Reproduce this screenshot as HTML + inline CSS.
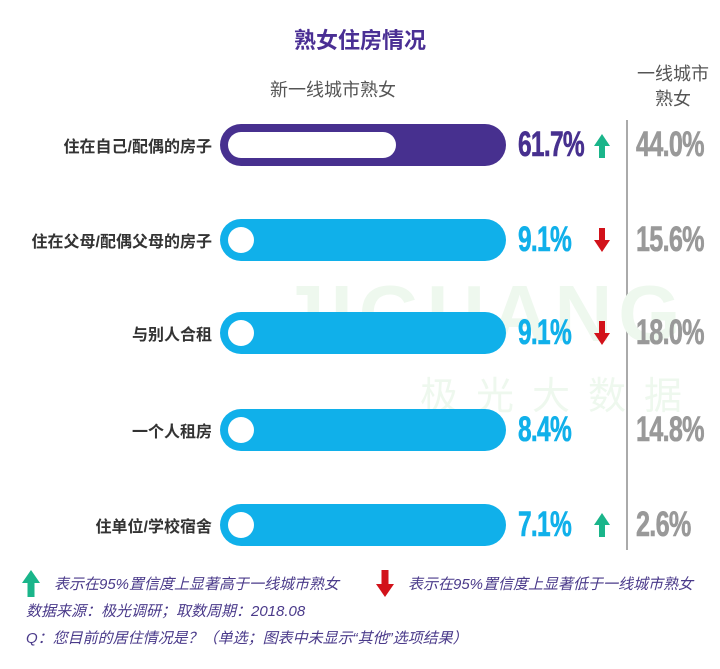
<!DOCTYPE html>
<html><head><meta charset="utf-8"><style>
body{margin:0;width:720px;height:669px;background:#fff;position:relative;overflow:hidden;font-family:"Liberation Sans","Noto Sans CJK SC",sans-serif}
.a{position:absolute;white-space:nowrap}
.lab{right:508px;font-size:16px;font-weight:bold;color:#333;transform:translateY(-50%)}
.bar{left:220px;width:286px;height:42px;border-radius:21px;background:#10b0ea}
.dot{position:absolute;left:8px;top:8px;width:26px;height:26px;border-radius:13px;background:#fff}
.pct{left:518px;font-size:35px;font-weight:bold;transform:translateY(-50%) scaleX(.7);transform-origin:left center;letter-spacing:-1px;-webkit-text-stroke:0.6px currentColor}
.rv{left:636px;font-size:35px;font-weight:bold;color:#999;transform:translateY(-50%) scaleX(.72);transform-origin:left center;letter-spacing:-1px;-webkit-text-stroke:0.6px currentColor}
.foot{font-size:15px;font-style:italic;color:#4a3a8a}
</style></head><body>
<div class="a" style="left:0;width:720px;top:23px;text-align:center;font-size:22px;font-weight:bold;color:#4a2f94">熟女住房情况</div>
<div class="a" style="left:270px;top:76px;font-size:18px;color:#555">新一线城市熟女</div>
<div class="a" style="left:628px;top:62px;width:90px;text-align:center;font-size:18px;color:#555;line-height:25px;white-space:normal">一线城市<br>熟女</div>
<div class="a" style="left:626px;top:120px;width:2px;height:430px;background:#aaa"></div>
<div class="a" style="left:280px;top:268px;font-size:80px;font-weight:bold;color:#eef8ee;letter-spacing:6px">JIGUANG</div>
<div class="a" style="left:420px;top:365px;font-size:38px;color:#eef8ee;letter-spacing:18px">极光大数据</div>

<div class="a lab" style="top:145px">住在自己/配偶的房子</div>
<div class="a bar" style="top:124px;background:#47308f"><div class="dot" style="width:168px"></div></div>
<div class="a pct" style="top:145px;color:#47308f">61.7%</div>
<div class="a rv" style="top:145px">44.0%</div>

<div class="a lab" style="top:240px">住在父母/配偶父母的房子</div>
<div class="a bar" style="top:219px"><div class="dot"></div></div>
<div class="a pct" style="top:240px;color:#10b0ea">9.1%</div>
<div class="a rv" style="top:240px">15.6%</div>

<div class="a lab" style="top:333px">与别人合租</div>
<div class="a bar" style="top:312px"><div class="dot"></div></div>
<div class="a pct" style="top:333px;color:#10b0ea">9.1%</div>
<div class="a rv" style="top:333px">18.0%</div>

<div class="a lab" style="top:430px">一个人租房</div>
<div class="a bar" style="top:409px"><div class="dot"></div></div>
<div class="a pct" style="top:430px;color:#10b0ea">8.4%</div>
<div class="a rv" style="top:430px">14.8%</div>

<div class="a lab" style="top:525px">住单位/学校宿舍</div>
<div class="a bar" style="top:504px"><div class="dot"></div></div>
<div class="a pct" style="top:525px;color:#10b0ea">7.1%</div>
<div class="a rv" style="top:525px">2.6%</div>

<svg class="a" style="left:0;top:0" width="720" height="669">
<g fill="#1ab58a"><path d="M594 146l8-12 8 12h-5v12h-6v-12z"/><path d="M594 525l8-12 8 12h-5v12h-6v-12z"/><path d="M22 583l9-13 9 13h-5.5v14h-7v-14z"/></g>
<g fill="#d2121a"><path d="M594 240l8 12 8-12h-5v-12h-6v12z"/><path d="M594 333l8 12 8-12h-5v-12h-6v12z"/><path d="M376 584l9 13 9-13h-5.5v-14h-7v14z"/></g>
</svg>
<div class="a foot" style="left:54px;top:573px">表示在95%置信度上显著高于一线城市熟女</div>
<div class="a foot" style="left:408px;top:573px">表示在95%置信度上显著低于一线城市熟女</div>
<div class="a foot" style="left:26px;top:600px">数据来源：极光调研；取数周期：2018.08</div>
<div class="a foot" style="left:26px;top:627px">Q：您目前的居住情况是？（单选；图表中未显示“其他”选项结果）</div>
</body></html>
